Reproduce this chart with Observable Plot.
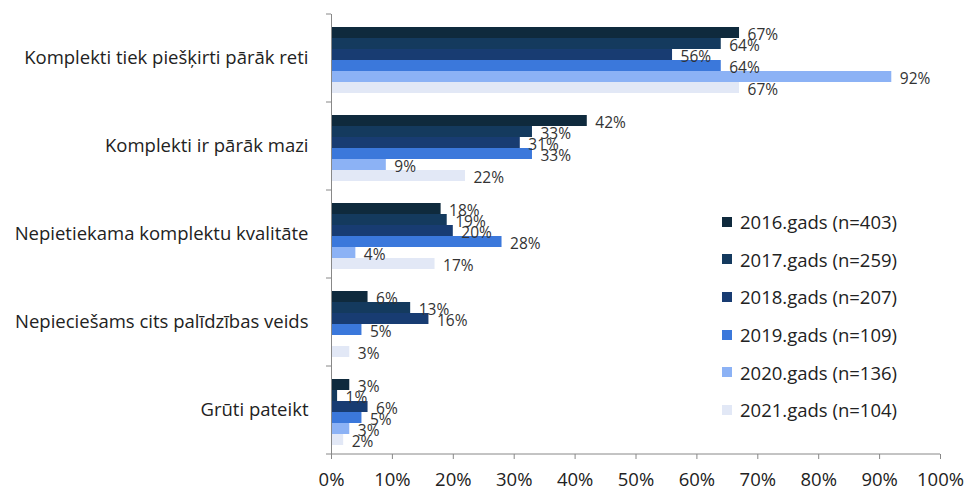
<!DOCTYPE html>
<html><head><meta charset="utf-8">
<script src="https://cdn.jsdelivr.net/npm/d3@7"></script>
<script src="https://cdn.jsdelivr.net/npm/@observablehq/plot@0.6"></script>
<style>
body{margin:0;background:#fff;font-family:"Open Sans",sans-serif}
#wrap{position:relative;width:968px;height:492px}
#legend{position:absolute;left:722px;top:203px}
.item{display:flex;align-items:center;height:37.6px;font-size:18.5px;color:#222}
.sw{width:10px;height:10px;margin-right:8px}
</style></head><body><div id="wrap"><div id="chart"></div><div id="legend"></div></div>
<script>
const categories = [
  "Komplekti tiek piešķirti pārāk reti",
  "Komplekti ir pārāk mazi",
  "Nepietiekama komplektu kvalitāte",
  "Nepieciešams cits palīdzības veids",
  "Grūti pateikt"
];
const years = ["2016.gads (n=403)","2017.gads (n=259)","2018.gads (n=207)","2019.gads (n=109)","2020.gads (n=136)","2021.gads (n=104)"];
const colors = ["#0f2a3d","#143a5e","#183c72","#3b78db","#8cb2f5","#e2e8f6"];
const s2016 = [67,42,18,6,3];
const s2017 = [64,33,19,13,1];
const s2018 = [56,31,20,16,6];
const s2019 = [64,33,28,5,5];
const s2020 = [92,9,4,null,3];
const s2021 = [67,22,17,3,2];
const xTicks = [0,10,20,30,40,50,60,70,80,90,100];

const series = [s2016,s2017,s2018,s2019,s2020,s2021];
const data = [];
categories.forEach((c,i)=>series.forEach((s,j)=>{ if(s[i]!=null) data.push({cat:c, year:years[j], value:s[i]}); }));

const chart = Plot.plot({
  width:968, height:492, marginLeft:331, marginRight:28, marginTop:12, marginBottom:37,
  style:{fontFamily:"Open Sans", fontSize:"15px", color:"#222", background:"#fff"},
  fy:{domain:categories, padding:0, label:null, axis:null},
  y:{domain:years, paddingInner:0, paddingOuter:0.8, align:0.58, axis:null},
  x:{domain:[0,100], axis:null},
  color:{domain:years, range:colors},
  marks:[
    Plot.barX(data,{fy:"cat", y:"year", x:"value", fill:"year"}),
    Plot.text(data,{fy:"cat", y:"year", x:"value", text:d=>d.value+"%", textAnchor:"start", dx:8, dy:2, fontSize:15.5, fill:"#333"}),
    Plot.ruleX([0],{stroke:"#888"}),
    Plot.axisFy({anchor:"left", tickSize:0, tickPadding:23, fontSize:18.5, label:null}),
    Plot.axisX({ticks:xTicks, tickFormat:d=>d+"%", tickSize:5, tickPadding:13, fontSize:18.5, label:null, stroke:"#888"})
  ]
});
document.getElementById("chart").appendChild(chart);

// category boundary ticks and bottom axis line
const fy = chart.scale("fy"), x = chart.scale("x");
const svg = d3.select(chart);
const x0 = x.apply(0), x1 = x.apply(100);
const bounds = categories.map(c=>fy.apply(c));
bounds.push(fy.apply(categories[categories.length-1]) + fy.bandwidth);
const g = svg.append("g").attr("stroke","#888");
bounds.forEach(b=>g.append("line").attr("x1",x0-5).attr("x2",x0).attr("y1",b).attr("y2",b));
g.append("line").attr("x1",x0).attr("x2",x1).attr("y1",bounds[bounds.length-1]).attr("y2",bounds[bounds.length-1]);

const legend = d3.select("#legend");
years.forEach((y,i)=>{
  const it = legend.append("div").attr("class","item");
  it.append("div").attr("class","sw").style("background",colors[i]);
  it.append("span").text(y);
});
</script></body></html>
